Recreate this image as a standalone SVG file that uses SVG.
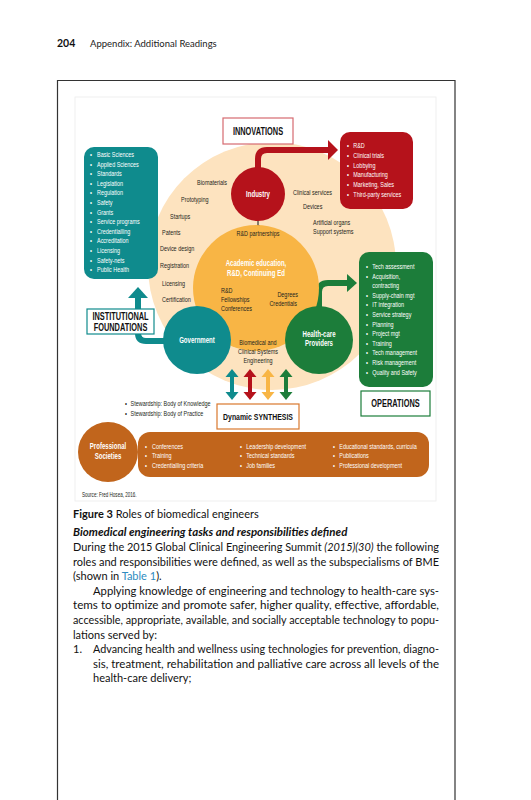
<svg xmlns="http://www.w3.org/2000/svg" width="531" height="800" viewBox="0 0 531 800">
<defs>
<style>
.c{font-family:"Liberation Sans",Arial,sans-serif;font-size:7.8px;fill:#231f20}
.w{fill:#fff}
.lab{font-family:"Liberation Sans",Arial,sans-serif;font-weight:bold;font-size:8.2px;fill:#fff;text-anchor:middle}
.box{font-family:"Liberation Sans",Arial,sans-serif;font-weight:bold;font-size:10px;fill:#111;text-anchor:middle}
.body{font-family:Lato,"Open Sans",sans-serif;font-size:11px;fill:#111}
.mid{text-anchor:middle}
.end{text-anchor:end}
</style>
<path id="dbl" d="M0,0 L6.5,8 L2,8 L2,23 L6.5,23 L0,31 L-6.5,23 L-2,23 L-2,8 L-6.5,8 Z"/>
<marker id="ah" viewBox="0 0 6 6" refX="5" refY="3" markerWidth="4" markerHeight="4" orient="auto-start-reverse"><path d="M0,0 L6,3 L0,6 Z" fill="#111"/></marker>
</defs>
<rect width="531" height="800" fill="#fff"/>
<g id="header">
<text x="57" y="47" style="font-family:Lato,sans-serif;font-size:10.5px;font-weight:bold;fill:#111">204</text>
<text x="90" y="47" style="font-family:Lato,sans-serif;font-size:9.5px;fill:#222">Appendix: Additional Readings</text>
</g>
<path d="M57.5,800 V80.5 H455 V800" fill="none" stroke="#333" stroke-width="1.2"/>
<rect x="75" y="97" width="361" height="404" fill="none" stroke="#ececec" stroke-width="0.8"/>

<g id="background-circle">
<circle cx="272" cy="266" r="124" fill="#fde3bf"/>
</g>

<g id="connectors">
<path d="M258,172 V159 Q258,150 267,150 H330" fill="none" stroke="#b5121b" stroke-width="6"/>
<polygon points="328,140 338,150 328,160" fill="#b5121b"/>
<path d="M319,312 V292 Q319,283 328,283 H349" fill="none" stroke="#1c7d3a" stroke-width="6"/>
<polygon points="347,274 357,283 347,292" fill="#1c7d3a"/>
<path d="M172,341 H146 Q138,341 138,333 V296" fill="none" stroke="#0f8b8d" stroke-width="6"/>
<polygon points="128,298 138,287 148,298" fill="#0f8b8d"/>
<line x1="258" y1="213" x2="258" y2="228" stroke="#111" stroke-width="1" marker-start="url(#ah)" marker-end="url(#ah)"/>
<line x1="210" y1="318" x2="219" y2="305" stroke="#111" stroke-width="1" marker-start="url(#ah)" marker-end="url(#ah)"/>
<line x1="293" y1="309" x2="302" y2="318" stroke="#111" stroke-width="1" marker-start="url(#ah)" marker-end="url(#ah)"/>
<use href="#dbl" x="232" y="369" fill="#0f8b8d"/>
<use href="#dbl" x="250" y="369" fill="#b5121b"/>
<use href="#dbl" x="268" y="369" fill="#f8b545"/>
<use href="#dbl" x="286" y="369" fill="#1c7d3a"/>
</g>

<g id="circle-labels">
<text class="c" transform="translate(197,185) scale(0.7,1)">Biomaterials</text>
<text class="c" transform="translate(181,202) scale(0.7,1)">Prototyping</text>
<text class="c" transform="translate(170,219) scale(0.7,1)">Startups</text>
<text class="c" transform="translate(162,235) scale(0.7,1)">Patents</text>
<text class="c" transform="translate(160,251) scale(0.7,1)">Device design</text>
<text class="c" transform="translate(160,268) scale(0.7,1)">Registration</text>
<text class="c" transform="translate(162,286) scale(0.7,1)">Licensing</text>
<text class="c" transform="translate(162,302) scale(0.7,1)">Certification</text>
<text class="c" transform="translate(293,195) scale(0.7,1)">Clinical services</text>
<text class="c" transform="translate(303,209) scale(0.7,1)">Devices</text>
<text class="c" transform="translate(313,225) scale(0.7,1)">Artificial organs</text>
<text class="c" transform="translate(313,234) scale(0.7,1)">Support systems</text>
</g>

<g id="academic">
<circle cx="256" cy="288" r="63" fill="#f8b545"/>
<text class="c mid" transform="translate(258,236) scale(0.7,1)">R&amp;D partnerships</text>
<text class="lab" transform="translate(256,266) scale(0.74,1)">Academic education,</text>
<text class="lab" transform="translate(256,276) scale(0.74,1)">R&amp;D, Continuing Ed</text>
<text class="c" transform="translate(221,293) scale(0.7,1)">R&amp;D</text>
<text class="c" transform="translate(221,302) scale(0.7,1)">Fellowships</text>
<text class="c" transform="translate(221,311) scale(0.7,1)">Conferences</text>
<text class="c end" transform="translate(298,297) scale(0.7,1)">Degrees</text>
<text class="c end" transform="translate(297,306) scale(0.7,1)">Credentials</text>
</g>

<g id="industry">
<circle cx="258" cy="194" r="27" fill="#b5121b"/>
<text class="lab" transform="translate(258,197) scale(0.74,1)">Industry</text>
</g>

<g id="government">
<circle cx="197" cy="340" r="34" fill="#0f8b8d"/>
<text class="lab" transform="translate(197,343) scale(0.74,1)">Government</text>
</g>

<g id="healthcare">
<circle cx="319" cy="340" r="34" fill="#1c7d3a"/>
<text class="lab" transform="translate(319,337) scale(0.74,1)">Health-care</text>
<text class="lab" transform="translate(319,346) scale(0.74,1)">Providers</text>
</g>

<g id="bce">
<text class="c mid" transform="translate(258,345) scale(0.7,1)">Biomedical and</text>
<text class="c mid" transform="translate(258,354) scale(0.7,1)">Clinical Systems</text>
<text class="c mid" transform="translate(258,363) scale(0.7,1)">Engineering</text>
</g>

<g id="innovations">
<rect x="223" y="118" width="70" height="26" fill="#fff" stroke="#d66a70" stroke-width="1.2"/>
<text class="box" transform="translate(258,135) scale(0.74,1)">INNOVATIONS</text>
</g>

<g id="foundations-list">
<rect x="84" y="147" width="74" height="132" rx="10" fill="#0f8b8d"/>
<g class="c w" transform="translate(90,0) scale(0.7,1)">
<text y="157"><tspan x="0">•</tspan><tspan x="10">Basic Sciences</tspan></text>
<text y="166.6"><tspan x="0">•</tspan><tspan x="10">Applied Sciences</tspan></text>
<text y="176.2"><tspan x="0">•</tspan><tspan x="10">Standards</tspan></text>
<text y="185.8"><tspan x="0">•</tspan><tspan x="10">Legislation</tspan></text>
<text y="195.4"><tspan x="0">•</tspan><tspan x="10">Regulation</tspan></text>
<text y="205"><tspan x="0">•</tspan><tspan x="10">Safety</tspan></text>
<text y="214.6"><tspan x="0">•</tspan><tspan x="10">Grants</tspan></text>
<text y="224.2"><tspan x="0">•</tspan><tspan x="10">Service programs</tspan></text>
<text y="233.8"><tspan x="0">•</tspan><tspan x="10">Credentialling</tspan></text>
<text y="243.4"><tspan x="0">•</tspan><tspan x="10">Accreditation</tspan></text>
<text y="253"><tspan x="0">•</tspan><tspan x="10">Licensing</tspan></text>
<text y="262.6"><tspan x="0">•</tspan><tspan x="10">Safety-nets</tspan></text>
<text y="272.2"><tspan x="0">•</tspan><tspan x="10">Public Health</tspan></text>
</g>
</g>

<g id="institutional">
<rect x="87" y="309" width="67" height="25" fill="#fff" stroke="#0f8b8d" stroke-width="1.2"/>
<text class="box" transform="translate(120.5,320) scale(0.74,1)">INSTITUTIONAL</text>
<text class="box" transform="translate(120.5,331) scale(0.74,1)">FOUNDATIONS</text>
</g>

<g id="innovations-list">
<rect x="340" y="132" width="73" height="77" rx="10" fill="#b5121b"/>
<g class="c w" transform="translate(347,0) scale(0.7,1)">
<text y="148"><tspan x="0">•</tspan><tspan x="9">R&amp;D</tspan></text>
<text y="157.8"><tspan x="0">•</tspan><tspan x="9">Clinical trials</tspan></text>
<text y="167.6"><tspan x="0">•</tspan><tspan x="9">Lobbying</tspan></text>
<text y="177.4"><tspan x="0">•</tspan><tspan x="9">Manufacturing</tspan></text>
<text y="187.2"><tspan x="0">•</tspan><tspan x="9">Marketing, Sales</tspan></text>
<text y="197"><tspan x="0">•</tspan><tspan x="9">Third-party services</tspan></text>
</g>
</g>

<g id="operations-list">
<rect x="359" y="252" width="74" height="135" rx="10" fill="#1c7d3a"/>
<g class="c w" transform="translate(366,0) scale(0.7,1)">
<text y="269"><tspan x="0">•</tspan><tspan x="9">Tech assessment</tspan></text>
<text y="278.6"><tspan x="0">•</tspan><tspan x="9">Acquisition,</tspan></text>
<text y="288.2"><tspan x="9">contracting</tspan></text>
<text y="297.8"><tspan x="0">•</tspan><tspan x="9">Supply-chain mgt</tspan></text>
<text y="307.4"><tspan x="0">•</tspan><tspan x="9">IT integration</tspan></text>
<text y="317"><tspan x="0">•</tspan><tspan x="9">Service strategy</tspan></text>
<text y="326.6"><tspan x="0">•</tspan><tspan x="9">Planning</tspan></text>
<text y="336.2"><tspan x="0">•</tspan><tspan x="9">Project mgt</tspan></text>
<text y="345.8"><tspan x="0">•</tspan><tspan x="9">Training</tspan></text>
<text y="355.4"><tspan x="0">•</tspan><tspan x="9">Tech management</tspan></text>
<text y="365"><tspan x="0">•</tspan><tspan x="9">Risk management</tspan></text>
<text y="374.6"><tspan x="0">•</tspan><tspan x="9">Quality and Safety</tspan></text>
</g>
</g>

<g id="operations">
<rect x="361" y="391" width="69" height="25" fill="#fff" stroke="#1c7d3a" stroke-width="1.2"/>
<text class="box" transform="translate(395.5,407) scale(0.74,1)">OPERATIONS</text>
</g>

<g id="stewardship">
<g class="c" transform="translate(125,0) scale(0.7,1)">
<text y="406"><tspan x="0">•</tspan><tspan x="8">Stewardship: Body of Knowledge</tspan></text>
<text y="416"><tspan x="0">•</tspan><tspan x="8">Stewardship: Body of Practice</tspan></text>
</g>
</g>

<g id="synthesis">
<rect x="217" y="404" width="82" height="25" fill="#fff" stroke="#d9782d" stroke-width="1.2"/>
<text class="box" transform="translate(258,420) scale(0.72,1)" style="font-size:9.6px">Dynamic SYNTHESIS</text>
</g>

<g id="professional">
<rect x="138" y="432" width="291" height="45" rx="12" fill="#c1651c"/>
<circle cx="108" cy="452" r="30" fill="#c1651c"/>
<text class="lab" transform="translate(108,449) scale(0.74,1)">Professional</text>
<text class="lab" transform="translate(108,459) scale(0.74,1)">Societies</text>
<g class="c w" transform="translate(145,0) scale(0.7,1)">
<text y="449"><tspan x="0">•</tspan><tspan x="10">Conferences</tspan></text>
<text y="458.5"><tspan x="0">•</tspan><tspan x="10">Training</tspan></text>
<text y="468"><tspan x="0">•</tspan><tspan x="10">Credentialling criteria</tspan></text>
</g>
<g class="c w" transform="translate(240,0) scale(0.7,1)">
<text y="449"><tspan x="0">•</tspan><tspan x="9">Leadership development</tspan></text>
<text y="458.5"><tspan x="0">•</tspan><tspan x="9">Technical standards</tspan></text>
<text y="468"><tspan x="0">•</tspan><tspan x="9">Job families</tspan></text>
</g>
<g class="c w" transform="translate(333,0) scale(0.7,1)">
<text y="449"><tspan x="0">•</tspan><tspan x="9">Educational standards, curricula</tspan></text>
<text y="458.5"><tspan x="0">•</tspan><tspan x="9">Publications</tspan></text>
<text y="468"><tspan x="0">•</tspan><tspan x="9">Professional development</tspan></text>
</g>
</g>

<text class="c" transform="translate(82,497) scale(0.7,1)" style="font-size:6.5px">Source: Fred Hosea, 2016.</text>

<g id="text-body">
<text class="body" x="73" y="518"><tspan font-weight="bold">Figure 3</tspan>  Roles of biomedical engineers</text>
<text class="body" x="73" y="536" style="font-weight:bold;font-style:italic;font-size:11.5px">Biomedical engineering tasks and responsibilities defined</text>
<text class="body" x="73" y="551" textLength="366" lengthAdjust="spacingAndGlyphs">During the 2015 Global Clinical Engineering Summit <tspan font-style="italic">(2015)(30)</tspan> the following</text>
<text class="body" x="73" y="565.6" textLength="366" lengthAdjust="spacingAndGlyphs">roles and responsibilities were defined, as well as the subspecialisms of BME</text>
<text class="body" x="73" y="580.2">(shown in <tspan fill="#2e8bc0">Table 1</tspan>).</text>
<text class="body" x="93" y="594.8" textLength="346" lengthAdjust="spacingAndGlyphs">Applying knowledge of engineering and technology to health-care sys-</text>
<text class="body" x="73" y="609.4" textLength="366" lengthAdjust="spacingAndGlyphs">tems to optimize and promote safer, higher quality, effective, affordable,</text>
<text class="body" x="73" y="624" textLength="366" lengthAdjust="spacingAndGlyphs">accessible, appropriate, available, and socially acceptable technology to popu-</text>
<text class="body" x="73" y="638.6">lations served by:</text>
<text class="body" x="73" y="653.2">1.</text>
<text class="body" x="93" y="653.2" textLength="346" lengthAdjust="spacingAndGlyphs">Advancing health and wellness using technologies for prevention, diagno-</text>
<text class="body" x="93" y="667.8" textLength="346" lengthAdjust="spacingAndGlyphs">sis, treatment, rehabilitation and palliative care across all levels of the</text>
<text class="body" x="93" y="682.4">health-care delivery;</text>
</g>
</svg>
